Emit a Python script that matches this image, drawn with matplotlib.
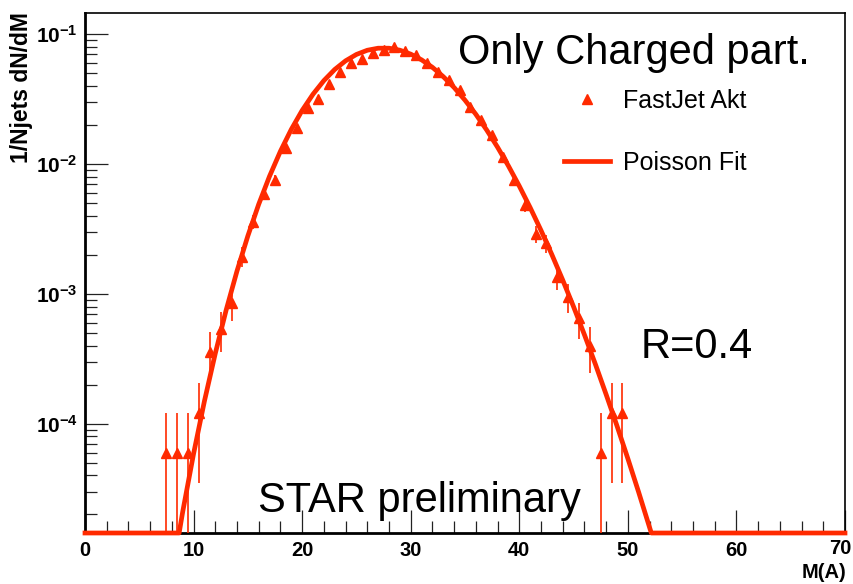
import numpy as np
import matplotlib
matplotlib.use("Agg")
import matplotlib.pyplot as plt
from matplotlib.ticker import MultipleLocator, LogLocator, NullFormatter, FuncFormatter

plt.rcParams['font.family'] = ['Liberation Sans', 'DejaVu Sans']
plt.rcParams['mathtext.fontset'] = 'custom'
plt.rcParams['mathtext.rm'] = 'Liberation Sans:bold'
plt.rcParams['mathtext.bf'] = 'Liberation Sans:bold'

RED = "#ff2a00"

# FastJet anti-kt, charged particles only, R=0.4 (bin centres)
data_m = [7.5, 8.5, 9.5, 10.5, 11.5, 12.5, 13.5, 14.5, 15.5, 16.5, 17.5, 18.5, 19.5,
          20.5, 21.5, 22.5, 23.5, 24.5, 25.5, 26.5, 27.5, 28.5, 29.5, 30.5, 31.5,
          32.5, 33.5, 34.5, 35.5, 36.5, 37.5, 38.5, 39.5, 40.5, 41.5, 42.5, 43.5,
          44.5, 45.5, 46.5, 47.5, 48.5, 49.5]
data_val = [6.0e-5, 6.0e-5, 6.0e-5, 1.2e-4, 3.6e-4, 5.4e-4, 8.5e-4, 1.94e-3, 3.6e-3,
            5.9e-3, 7.6e-3, 1.32e-2, 1.89e-2, 2.69e-2, 3.2e-2, 4.17e-2, 5.15e-2,
            5.98e-2, 6.41e-2, 7.22e-2, 7.57e-2, 8.0e-2, 7.48e-2, 6.92e-2, 5.98e-2,
            5.15e-2, 4.45e-2, 3.72e-2, 2.75e-2, 2.2e-2, 1.68e-2, 1.14e-2, 7.55e-3,
            4.85e-3, 2.89e-3, 2.45e-3, 1.36e-3, 9.5e-4, 6.5e-4, 4.0e-4, 6.0e-5,
            1.2e-4, 1.2e-4]
data_err = [6.0e-5, 6.0e-5, 6.0e-5, 8.5e-5, 1.47e-4, 1.8e-4, 2.26e-4, 3.4e-4, 4.6e-4,
            5.95e-4, 6.75e-4, 8.9e-4, 1.06e-3, 1.27e-3, 1.39e-3, 1.58e-3, 1.76e-3,
            1.89e-3, 1.96e-3, 2.08e-3, 2.13e-3, 2.19e-3, 2.12e-3, 2.04e-3, 1.89e-3,
            1.76e-3, 1.63e-3, 1.49e-3, 1.28e-3, 1.15e-3, 1.0e-3, 8.3e-4, 6.7e-4,
            5.4e-4, 4.2e-4, 3.8e-4, 2.86e-4, 2.39e-4, 1.97e-4, 1.55e-4, 6.0e-5,
            8.5e-5, 8.5e-5]

# Poisson fit curve (floor of the plot where it drops off the axis)
fit_m = [0, 8.67] + list(range(9, 53)) + [52.16, 70]
fit_val = [1.44e-5, 1.44e-5,
           2.10e-5, 5.87e-5, 1.494e-4, 3.48e-4, 7.51e-4, 1.502e-3, 2.80e-3, 4.91e-3,
           8.08e-3, 1.257e-2, 1.852e-2, 2.593e-2, 3.457e-2, 4.40e-2, 5.36e-2, 6.25e-2,
           7.00e-2, 7.54e-2, 7.82e-2, 7.82e-2, 7.55e-2, 7.04e-2, 6.36e-2, 5.57e-2,
           4.72e-2, 3.89e-2, 3.11e-2, 2.42e-2, 1.831e-2, 1.350e-2, 9.69e-3, 6.78e-3,
           4.63e-3, 3.09e-3, 2.01e-3, 1.280e-3, 7.97e-4, 4.85e-4, 2.89e-4, 1.68e-4,
           9.63e-5, 5.39e-5, 2.96e-5, 1.59e-5,
           1.44e-5, 1.44e-5]

W, H = 854, 584
fig = plt.figure(figsize=(W / 100, H / 100), dpi=100)
ax = fig.add_axes([85 / W, 1 - 533 / H, 760 / W, 520 / H])

vals = np.array(data_val)
err = np.array(data_err)
err_lo = np.where(err >= vals, vals * 0.999999, err)

ax.errorbar(data_m, vals, yerr=[err_lo, err], fmt='none', ecolor=RED,
            elinewidth=1.2, capsize=0, zorder=3)
pts, = ax.plot(data_m, vals, '^', color=RED, markersize=7, zorder=4,
               label="FastJet Akt")
fit, = ax.plot(fit_m, fit_val, '-', color=RED, lw=3.4, zorder=5,
               clip_on=False, label="Poisson Fit")

ax.set_yscale('log')
ax.set_xlim(0, 70)
ax.set_ylim(1.44e-5, 0.146)

ax.xaxis.set_major_locator(MultipleLocator(10))
ax.xaxis.set_minor_locator(MultipleLocator(2))
# last label (70) is placed by hand so it stays inside the canvas
ax.xaxis.set_major_formatter(FuncFormatter(
    lambda v, p: '' if v >= 70 else '%d' % v))
ax.yaxis.set_major_locator(LogLocator(base=10, numticks=10))
ax.yaxis.set_minor_locator(LogLocator(base=10, subs=np.arange(2, 10), numticks=20))
ax.yaxis.set_minor_formatter(NullFormatter())
ax.yaxis.set_major_formatter(FuncFormatter(
    lambda v, p: r'$\mathbf{10^{%d}}$' % int(round(np.log10(v)))))

ax.tick_params(which='both', direction='in', top=False, right=False,
               color='#222222', width=0.9)
ax.tick_params(which='major', length=16.5)
ax.tick_params(which='minor', length=8.5)
ax.tick_params(axis='x', labelsize=14.5, pad=6)
ax.tick_params(axis='y', labelsize=15, pad=35)
for lab in ax.get_xticklabels():
    lab.set_fontweight('bold')
for lab in ax.get_yticklabels():
    lab.set_ha('left')

for s in ['left', 'bottom']:
    ax.spines[s].set_linewidth(2.0)
for s in ['top', 'right']:
    ax.spines[s].set_linewidth(1.2)

fig.text(840 / W, 1 - 549 / H, "70", fontsize=14.5, fontweight='bold',
         ha='center', va='center')
fig.text(22 / W, 1 - 12 / H, "1/Njets dN/dM", rotation=90, fontsize=16.5,
         fontweight='bold', ha='center', va='top')
fig.text(846 / W, 1 - 573 / H, "M(A)", fontsize=14.5, fontweight='bold',
         ha='right', va='center')

fig.text(458 / W, 1 - 64 / H, "Only Charged part.", fontsize=30, va='baseline')
fig.text(641 / W, 1 - 358 / H, "R=0.4", fontsize=30, va='baseline')
fig.text(258 / W, 1 - 512 / H, "STAR preliminary", fontsize=30, va='baseline')

ax.legend(handles=[pts, fit], loc='upper left', bbox_to_anchor=(564 / W, 1 - 89 / H),
          bbox_transform=fig.transFigure, frameon=False, fontsize=18,
          borderpad=0, borderaxespad=0, handlelength=1.85, handletextpad=0.5,
          labelspacing=1.5, numpoints=1)

fig.savefig("out.png", dpi=100, facecolor='white')
